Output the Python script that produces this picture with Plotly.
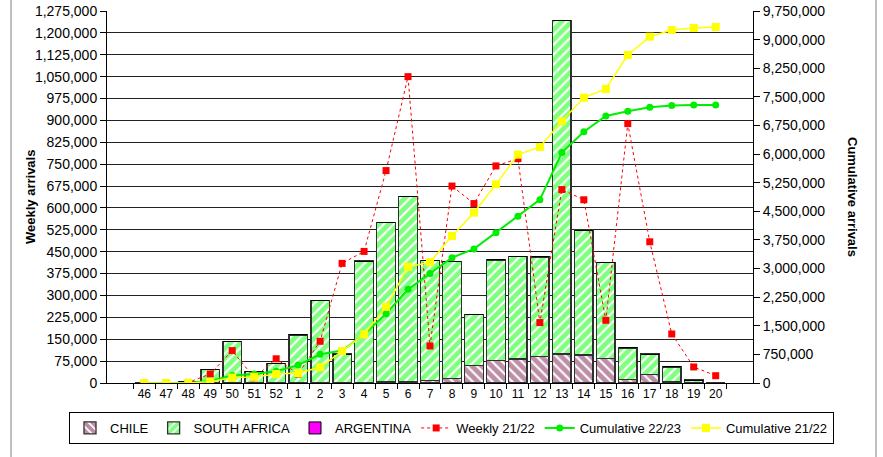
import plotly.graph_objects as go

weeks = ["46", "47", "48", "49", "50", "51", "52", "1", "2", "3", "4", "5", "6", "7",
         "8", "9", "10", "11", "12", "13", "14", "15", "16", "17", "18", "19", "20"]

chile = [0, 0, 0, 0, 0, 0, 0, 0, 0, 0, 2000, 4000, 3000, 8000,
         16000, 61000, 76000, 82000, 92000, 99000, 96000, 85000, 11000, 28000, 5000, 2000, 0]

south_africa = [0, 0, 5000, 47000, 143000, 40000, 68000, 165000, 282000, 99000, 416000, 545000, 637000, 413000,
                400000, 174000, 346000, 351000, 340000, 1143000, 428000, 329000, 109000, 71000, 50000, 8000, 0]

argentina = [0] * 27

weekly_2122 = [0, 0, 2000, 31000, 111000, 18000, 83000, 31000, 143000, 410000, 451000, 728000, 1050000, 127000,
               675000, 615000, 744000, 769000, 207000, 663000, 628000, 215000, 889000, 484000, 168000, 55000, 25000]

cum_2223 = [0, 0, 5000, 52000, 195000, 235000, 305000, 470000, 752000, 851000, 1269000, 1818000, 2455000, 2870000,
            3285000, 3515000, 3940000, 4370000, 4805000, 6040000, 6585000, 6998000, 7125000, 7225000, 7270000, 7285000, 7287000]

cum_2122 = [0, 0, 2000, 33000, 144000, 160000, 235000, 262000, 411000, 839000, 1275000, 1995000, 3045000, 3165000,
            3855000, 4465000, 5207000, 5985000, 6187000, 6858000, 7480000, 7706000, 8597000, 9077000, 9252000, 9305000, 9331000]

left_ticks = list(range(0, 1275001, 75000))
right_ticks = list(range(0, 9750001, 750000))

FONT = "Liberation Sans, Arial, sans-serif"

fig = go.Figure()

fig.add_trace(go.Bar(
    x=weeks, y=chile, name="CHILE",
    marker=dict(color="white", line=dict(color="#303030", width=1.3),
                pattern=dict(shape="\\", fgcolor="#7a1f50", bgcolor="white", size=7, solidity=0.7)),
))
fig.add_trace(go.Bar(
    x=weeks, y=south_africa, name="SOUTH AFRICA",
    marker=dict(color="white", line=dict(color="#303030", width=1.3),
                pattern=dict(shape="/", fgcolor="#00ff00", bgcolor="white", size=7, solidity=0.7)),
))
fig.add_trace(go.Bar(
    x=weeks, y=argentina, name="ARGENTINA",
    marker=dict(color="#ff00ff", line=dict(color="black", width=1)),
))
fig.add_trace(go.Scatter(
    x=weeks, y=weekly_2122, name="Weekly 21/22", mode="lines+markers",
    line=dict(color="#ff0000", width=1, dash="dot"),
    marker=dict(symbol="square", size=7, color="#ff0000"),
))
fig.add_trace(go.Scatter(
    x=weeks, y=cum_2223, name="Cumulative 22/23", mode="lines+markers", yaxis="y2",
    line=dict(color="#00ee00", width=2),
    marker=dict(symbol="circle", size=7, color="#00ee00"),
))
fig.add_trace(go.Scatter(
    x=weeks, y=cum_2122, name="Cumulative 21/22", mode="lines+markers", yaxis="y2",
    line=dict(color="#ffff00", width=1.5),
    marker=dict(symbol="square", size=8, color="#ffff00"),
))

fig.update_layout(
    width=883, height=457,
    margin=dict(l=107, r=130, t=11, b=74, autoexpand=False),
    paper_bgcolor="white", plot_bgcolor="white",
    barmode="stack", bargap=0.16,
    font=dict(family=FONT, color="black"),
    showlegend=True,
    legend=dict(orientation="h", x=(834 - 107) / 646, xanchor="right", y=(383 - 412) / 372, yanchor="top",
                bordercolor="black", borderwidth=1, bgcolor="white",
                font=dict(size=13, family=FONT), itemwidth=30, traceorder="normal"),
    xaxis=dict(type="category", tickson="boundaries", ticks="outside", ticklen=5,
               tickcolor="black", showline=True, linecolor="black", linewidth=1,
               tickangle=0, automargin=False,
               tickfont=dict(size=12), showgrid=False, zeroline=False),
    yaxis=dict(range=[0, 1275000], tickvals=left_ticks, tickformat=",d",
               showgrid=True, gridcolor="#222222", gridwidth=1,
               showline=True, linecolor="black", linewidth=1,
               ticks="outside", ticklen=6, tickcolor="black", automargin=False,
               tickfont=dict(size=14), zeroline=False),
    yaxis2=dict(range=[0, 9750000], tickvals=right_ticks, tickformat=",d",
                overlaying="y", side="right", showgrid=False,
                showline=True, linecolor="black", linewidth=1,
                ticks="outside", ticklen=6, tickcolor="black", automargin=False,
                tickfont=dict(size=14), zeroline=False),
    annotations=[
        dict(text="<b>Weekly arrivals</b>", xref="paper", yref="paper",
             x=(30 - 107) / 646, y=0.5, textangle=-90, showarrow=False,
             font=dict(size=13, family=FONT), xanchor="center", yanchor="middle"),
        dict(text="<b>Cumulative arrivals</b>", xref="paper", yref="paper",
             x=(853 - 107) / 646, y=0.5, textangle=90, showarrow=False,
             font=dict(size=13, family=FONT), xanchor="center", yanchor="middle"),
    ],
    shapes=[
        dict(type="line", xref="paper", yref="paper", x0=(11 - 107) / 646, x1=(11 - 107) / 646,
             y0=-0.25, y1=1.05, line=dict(color="#808080", width=1)),
        dict(type="line", xref="paper", yref="paper", x0=(876 - 107) / 646, x1=(876 - 107) / 646,
             y0=-0.25, y1=1.05, line=dict(color="#808080", width=1)),
    ],
)

fig.write_html("out.html", config={"displayModeBar": False},
               post_script="document.body.style.margin='0';document.body.style.overflow='hidden';")
